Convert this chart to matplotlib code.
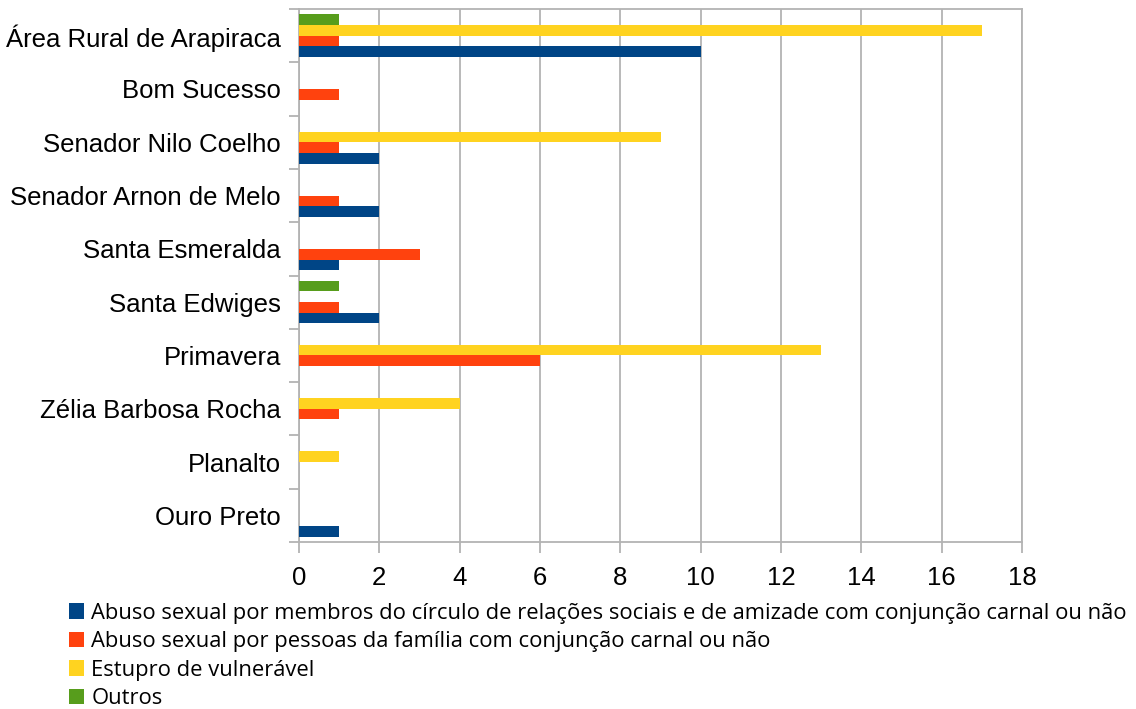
import matplotlib
matplotlib.use("Agg")
import matplotlib.pyplot as plt
import numpy as np
from matplotlib.patches import Patch

categories = ["Área Rural de Arapiraca", "Bom Sucesso", "Senador Nilo Coelho",
              "Senador Arnon de Melo", "Santa Esmeralda", "Santa Edwiges",
              "Primavera", "Zélia Barbosa Rocha", "Planalto", "Ouro Preto"]
series_names = ["Abuso sexual por membros do círculo de relações sociais e de amizade com conjunção carnal ou não",
                "Abuso sexual por pessoas da família com conjunção carnal ou não",
                "Estupro de vulnerável",
                "Outros"]
abuso_circulo = [10, 0, 2, 2, 1, 2, 0, 0, 0, 1]
abuso_familia = [1, 1, 1, 1, 3, 1, 6, 1, 0, 0]
estupro = [17, 0, 9, 0, 0, 0, 13, 4, 1, 0]
outros = [1, 0, 0, 0, 0, 1, 0, 0, 0, 0]
colors = ["#004586", "#ff420e", "#ffd320", "#579d1c"]
xticks = [0, 2, 4, 6, 8, 10, 12, 14, 16, 18]

fig = plt.figure(figsize=(11.36, 7.09), dpi=100)
ax = fig.add_axes([299/1136, 1-542/709, (1022-299)/1136, (542-9)/709])

n = len(categories)
pos = np.arange(n)[::-1]  # top category at highest y
bh = 0.2
data = [abuso_circulo, abuso_familia, estupro, outros]
for i, (vals, c) in enumerate(zip(data, colors)):
    ax.barh(pos + (i - 1.5) * bh, vals, height=bh, color=c, zorder=3)

ax.set_xlim(0, 18)
ax.set_ylim(-0.5, n - 0.5)
ax.set_xticks(xticks)
ax.set_xticklabels([str(t) for t in xticks], fontsize=18.5, family="Liberation Sans")
ax.set_yticks(pos)
ax.set_yticklabels(categories, fontsize=18.5, family="Liberation Sans")
ax.tick_params(axis="y", length=0, pad=13)
ax.tick_params(axis="x", length=8, color="#b3b3b3", width=1.3, pad=9)
ax.set_yticks(np.arange(-0.5, n, 1), minor=True)
ax.tick_params(axis="y", which="minor", length=7.5, color="#b3b3b3", width=1.3)
ax.grid(axis="x", color="#b3b3b3", linewidth=1.3, zorder=0)
for s in ax.spines.values():
    s.set_color("#b3b3b3")
    s.set_linewidth(1.3)

handles = [Patch(facecolor=c, edgecolor="none") for c in colors]
fig.legend(handles, series_names, loc="upper left", bbox_to_anchor=(60/1136, 1-594/709),
           frameon=False, prop={"family": "Open Sans", "size": 15.8},
           handlelength=0.7, handleheight=0.7, handletextpad=0.32,
           labelspacing=0.34, borderaxespad=0)

fig.savefig("out.png", dpi=100)
